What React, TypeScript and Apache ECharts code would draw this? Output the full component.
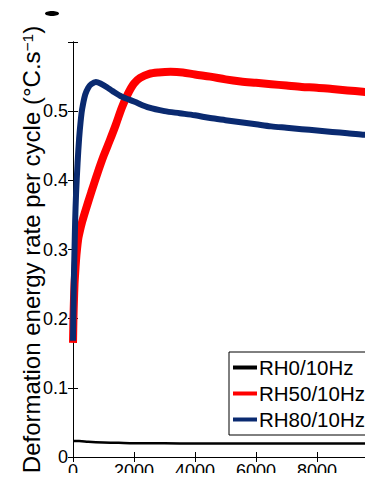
import React, { useEffect, useRef } from "react";
import * as echarts from "echarts";

const seriesNames = ["RH0/10Hz", "RH50/10Hz", "RH80/10Hz"];
const seriesColors = ["#000000", "#ff0000", "#0a2a70"];

const rh0X = [0, 200, 500, 1000, 1500, 2000, 3000, 4000, 5000, 6000, 7000, 8000, 9000, 10000];
const rh0Y = [0.023, 0.023, 0.022, 0.021, 0.0205, 0.02, 0.0198, 0.0196, 0.0196, 0.0195, 0.0195, 0.0195, 0.0195, 0.0195];

const rh50X = [0, 15, 30, 50, 70, 100, 130, 170, 200, 300, 400, 600, 800, 1000, 1200, 1400, 1600, 1800, 2000, 2200, 2500, 2800, 3200, 3600, 4000, 4500, 5000, 5500, 6000, 6500, 7000, 7500, 8000, 8500, 9000, 9500, 10000];
const rh50Y = [0.165, 0.2, 0.225, 0.25, 0.265, 0.285, 0.3, 0.315, 0.322, 0.34, 0.355, 0.383, 0.41, 0.435, 0.457, 0.48, 0.505, 0.525, 0.54, 0.548, 0.554, 0.556, 0.557, 0.556, 0.553, 0.55, 0.546, 0.543, 0.541, 0.539, 0.537, 0.535, 0.534, 0.532, 0.53, 0.528, 0.526];

const rh80X = [0, 15, 30, 50, 70, 100, 150, 200, 250, 300, 400, 500, 600, 750, 900, 1100, 1300, 1600, 2000, 2500, 3000, 3500, 4000, 4500, 5000, 5500, 6000, 6500, 7000, 7500, 8000, 8500, 9000, 9500, 10000];
const rh80Y = [0.168, 0.22, 0.26, 0.3, 0.34, 0.38, 0.425, 0.46, 0.485, 0.503, 0.524, 0.534, 0.539, 0.542, 0.54, 0.535, 0.529, 0.521, 0.514, 0.505, 0.5, 0.497, 0.494, 0.49, 0.487, 0.484, 0.481, 0.478, 0.476, 0.474, 0.472, 0.47, 0.468, 0.466, 0.465];

const xTickInterval = 2000;
const yTickInterval = 0.1;

const zip = (xs: number[], ys: number[]) => xs.map((x, i) => [x, ys[i]]);

const FONT = "'Liberation Sans', Arial, sans-serif";

export default function App() {
  const ref = useRef<HTMLDivElement>(null);
  useEffect(() => {
    if (!ref.current) return;
    const chart = echarts.init(ref.current, undefined, { renderer: "svg" });
    const lineWidths = [2.5, 8, 6];
    const datasets = [zip(rh0X, rh0Y), zip(rh50X, rh50Y), zip(rh80X, rh80Y)];
    chart.setOption({
      animation: false,
      backgroundColor: "#ffffff",
      grid: { left: 73, top: 42, width: 305, height: 415, containLabel: false, outerBoundsMode: "none" },
      legend: {
        orient: "vertical",
        left: 229,
        top: 352,
        data: seriesNames.map((n) => ({ name: n, icon: "rect" })),
        itemWidth: 24,
        itemHeight: 4,
        itemGap: 5,
        padding: [5, 5, 5, 4],
        borderColor: "#000",
        borderWidth: 1,
        backgroundColor: "#fff",
        textStyle: { fontSize: 20.5, fontFamily: FONT, color: "#000", padding: [0, 0, 0, -3] },
      },
      graphic: [
        { type: "ellipse", shape: { cx: 52, cy: 13.5, rx: 7, ry: 2.5 }, style: { fill: "#000" } },
      ],
      xAxis: [
        {
          type: "value",
          min: 0,
          max: 10000,
          interval: xTickInterval,
          axisLine: { show: true, lineStyle: { color: "#000", width: 1 } },
          axisTick: { show: true, inside: true, length: 5, lineStyle: { color: "#000" } },
          axisLabel: {
            fontSize: 18,
            fontFamily: FONT,
            color: "#000",
            margin: 5,
            showMaxLabel: false,
            formatter: (v: number) => (v >= 10000 ? "" : String(v)),
          },
          splitLine: { show: false },
        },
        {
          type: "value",
          position: "top",
          min: 0,
          max: 10000,
          interval: xTickInterval,
          axisLine: { show: true, lineStyle: { color: "#000", width: 1 } },
          axisTick: { show: true, inside: true, length: 5, lineStyle: { color: "#000" } },
          axisLabel: { show: false },
          splitLine: { show: false },
        },
      ],
      yAxis: [
        {
          type: "value",
          min: 0,
          max: 0.6,
          interval: yTickInterval,
          name: "{a|Deformation energy rate per cycle (°C.s}{s|−1}{a|)}",
          nameLocation: "middle",
          nameGap: 30,
          nameMoveOverlap: false,
          nameRotate: 90,
          nameTextStyle: {
            rich: {
              a: { fontSize: 24, fontFamily: FONT, color: "#000" },
              s: { fontSize: 15.5, fontFamily: FONT, color: "#000", verticalAlign: "top" },
            },
          },
          axisLine: { show: true, lineStyle: { color: "#000", width: 1 } },
          axisTick: { show: true, inside: true, length: 5, lineStyle: { color: "#000" } },
          axisLabel: {
            fontSize: 18,
            fontFamily: FONT,
            color: "#000",
            margin: 5,
            formatter: (v: number) => (v > 0.55 ? "" : v === 0 ? "0" : v.toFixed(1)),
          },
          splitLine: { show: false },
        },
        {
          type: "value",
          position: "right",
          min: 0,
          max: 0.6,
          interval: yTickInterval,
          axisLine: { show: true, lineStyle: { color: "#000", width: 1 } },
          axisTick: { show: true, inside: true, length: 5, lineStyle: { color: "#000" } },
          axisLabel: { show: false },
          splitLine: { show: false },
        },
      ],
      series: seriesNames.map((name, i) => ({
        name,
        type: "line",
        xAxisIndex: 0,
        yAxisIndex: 0,
        data: datasets[i],
        showSymbol: false,
        symbol: "none",
        smooth: 0.3,
        color: seriesColors[i],
        lineStyle: { color: seriesColors[i], width: lineWidths[i] },
        z: i === 0 ? 3 : i === 1 ? 2 : 4,
      })),
    });
    return () => chart.dispose();
  }, []);
  return <div ref={ref} style={{ width: 373, height: 481, margin: -8 }} />;
}
